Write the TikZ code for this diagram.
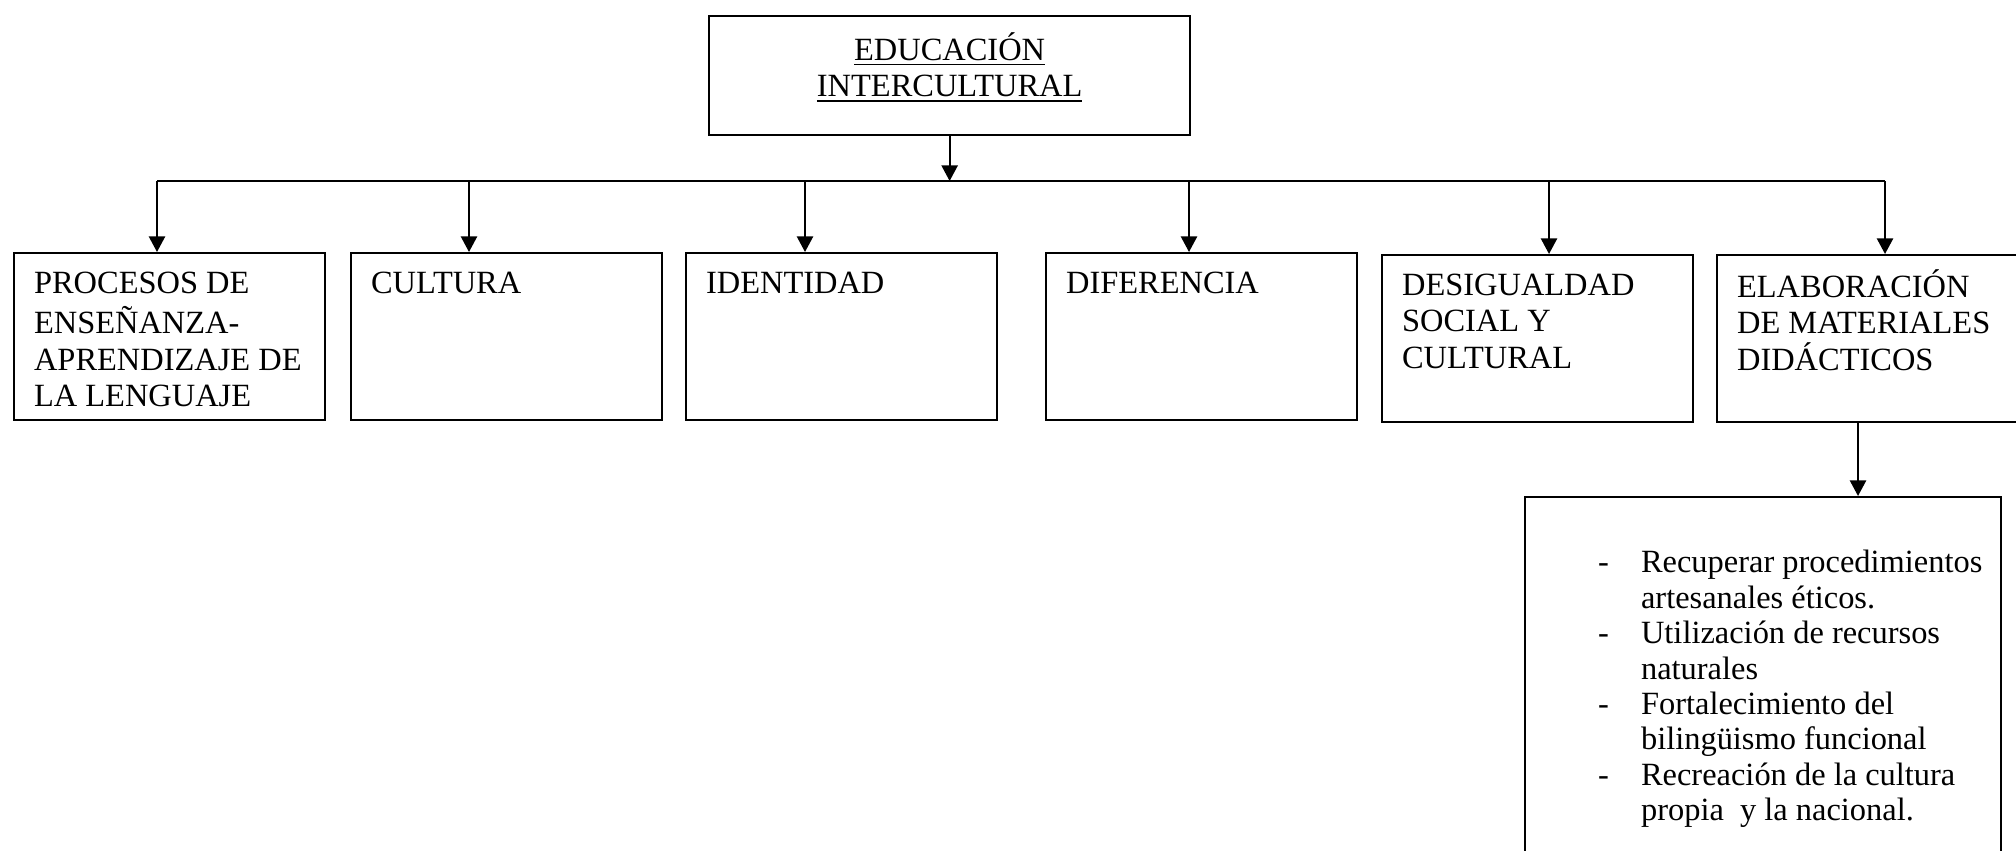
\documentclass[tikz,border=0pt]{standalone}
\usepackage{fontspec}
\setmainfont{Liberation Serif}
\usepackage{tikz}
\usetikzlibrary{arrows.meta,calc}
\tikzstyle{CAJA} = [rectangle, draw, line width=0.8pt, anchor=north west, inner xsep=7.4pt, inner ysep=5.35pt]
\tikzstyle{ARROW} = [line width=0.75pt, -{Triangle[length=5.8pt,width=6pt]}]
\tikzstyle{LINE} = [line width=1.1pt]
\newcommand{\cajatexto}[1]{\parbox[t][51.2pt][t]{100.2pt}{\raggedright\strut#1}}

\begin{document}
\begin{tikzpicture}[x=0.37pt, y=-0.37pt, font=\fontsize{12pt}{13.5pt}\selectfont]
\useasboundingbox (0,0) rectangle (2016,850);
\clip (0,0) rectangle (2016,850);
% Define
\tikzstyle{TITULO} = [CAJA, inner ysep=6.1pt]
\tikzstyle{LISTA} = [rectangle, draw, line width=0.8pt, anchor=north west, inner sep=0pt]
% Place node
\node [TITULO] (EDU) at (708,15) {\parbox[t][31.8pt][t]{163.2pt}{\centering\strut\underline{EDUCACIÓN}\\ \underline{INTERCULTURAL}}};
%
\node [CAJA] (B1) at (13,252) {\cajatexto{PROCESOS DE\\ ENSEÑANZA-\\ APRENDIZAJE DE\\ LA LENGUAJE}};
\node [CAJA] (B2) at (350,252) {\cajatexto{CULTURA}};
\node [CAJA] (B3) at (685,252) {\cajatexto{IDENTIDAD}};
\node [CAJA] (B4) at (1045,252) {\cajatexto{DIFERENCIA}};
\node [CAJA] (B5) at (1381,254) {\cajatexto{DESIGUALDAD\\ SOCIAL Y\\ CULTURAL}};
\node [CAJA] (B6) at (1716,254) {\cajatexto{ELABORACIÓN\\ DE MATERIALES\\ DIDÁCTICOS}};
%
\node [LISTA] (MAT) at (1524,496) {\parbox[t][150pt][t]{176pt}{\fontsize{12pt}{13.1pt}\selectfont\vspace*{18.9pt}\hspace*{27pt}%
\begin{tabular}[t]{@{}p{15.9pt}@{}l@{}}
- & Recuperar procedimientos\\
  & artesanales éticos.\\
- & Utilización de recursos\\
  & naturales\\
- & Fortalecimiento del\\
  & bilingüismo funcional\\
- & Recreación de la cultura\\
  & propia \ y la nacional.
\end{tabular}}};
% LINES and ARROWS
\coordinate (r1) at (157,181);
\coordinate (r2) at (469,181);
\coordinate (r3) at (805,181);
\coordinate (r4) at (1189,181);
\coordinate (r5) at (1549,181);
\coordinate (r6) at (1885,181);
\coordinate (s6) at (1858,0);
\draw [LINE] (r1) -- (r6);
\draw [ARROW] (EDU.south) -- (EDU.south |- r1);
\foreach \n in {1,...,6}
  \draw [ARROW] (r\n) -- (r\n |- B\n.north);
\draw [ARROW] (s6 |- B6.south) -- (s6 |- MAT.north);
\end{tikzpicture}
\end{document}
